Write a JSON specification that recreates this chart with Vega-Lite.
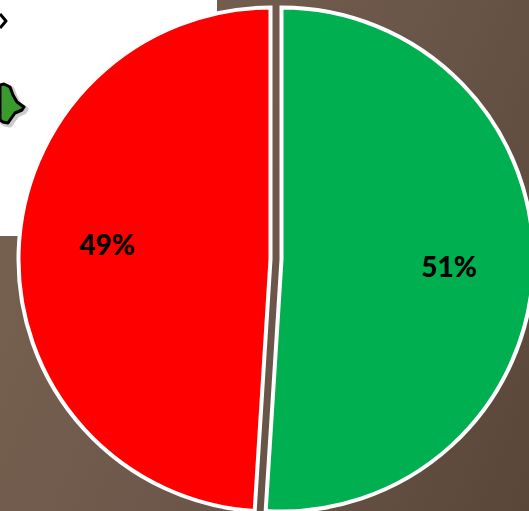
{
  "$schema": "https://vega.github.io/schema/vega-lite/v6.json",
  "width": 529,
  "height": 511,
  "padding": 0,
  "autosize": {"type": "none"},
  "background": "#6a5549",
  "config": {"view": {"stroke": null}},
  "datasets": {
    "shares": [
      {"label": "Green", "share": 51},
      {"label": "Red", "share": 49}
    ],
    "one": [{"k": 1}]
  },
  "layer": [
    {
      "data": {"name": "one"},
      "mark": {"type": "rect", "fill": {"gradient": "linear", "x1": 0, "y1": 0.6, "x2": 1, "y2": 1, "stops": [{"offset": 0, "color": "#75604f"}, {"offset": 0.5, "color": "#6a5549"}, {"offset": 1, "color": "#5a4639"}]}},
      "encoding": {
        "x": {"datum": 0, "type": "quantitative", "scale": {"domain": [0, 529], "nice": false}, "axis": null},
        "x2": {"datum": 529},
        "y": {"datum": 0, "type": "quantitative", "scale": {"domain": [511, 0], "nice": false}, "axis": null},
        "y2": {"datum": 511}
      }
    },
    {
      "data": {"name": "one"},
      "mark": {"type": "rect", "fill": "#ffffff"},
      "encoding": {
        "x": {"datum": 0, "type": "quantitative", "axis": null},
        "x2": {"datum": 217},
        "y": {"datum": 0, "type": "quantitative", "axis": null},
        "y2": {"datum": 236}
      }
    },
    {
      "data": {"name": "one"},
      "mark": {"type": "point", "filled": true, "size": 4, "fill": "#000000", "stroke": "#000000", "strokeWidth": 5, "opacity": 0.2, "strokeJoin": "round", "shape": "M0 -1L4 -2L10 1L13 9L17 16L24 21L22 24L15 27L10 34L8 37L3 36L0 34Z"},
      "encoding": {
        "x": {"datum": 2, "type": "quantitative", "axis": null},
        "y": {"datum": 88, "type": "quantitative", "axis": null}
      }
    },
    {
      "data": {"name": "one"},
      "mark": {"type": "point", "filled": true, "size": 4, "fill": "#3a9a2e", "stroke": "#000000", "strokeWidth": 3, "opacity": 1, "strokeJoin": "round", "shape": "M0 -1L4 -2L10 1L13 9L17 16L24 21L22 24L15 27L10 34L8 37L3 36L0 34Z"},
      "encoding": {
        "x": {"datum": 0, "type": "quantitative", "axis": null},
        "y": {"datum": 86, "type": "quantitative", "axis": null}
      }
    },
    {
      "data": {"name": "one"},
      "mark": {"type": "point", "filled": true, "size": 4, "fill": "#ffffff", "stroke": "#000000", "strokeWidth": 3, "opacity": 1, "strokeJoin": "round", "shape": "M0 0L6 7L0 14"},
      "encoding": {
        "x": {"datum": 0, "type": "quantitative", "axis": null},
        "y": {"datum": 14, "type": "quantitative", "axis": null}
      }
    },
    {
      "data": {"name": "shares"},
      "transform": [
        {"stack": "share", "sort": [{"field": "share", "order": "descending"}], "as": ["start", "end"]},
        {"filter": "datum.label === 'Green'"}
      ],
      "mark": {"type": "arc", "outerRadius": 252, "stroke": "#ffffff", "strokeWidth": 4},
      "encoding": {
        "theta": {"field": "start", "type": "quantitative", "scale": {"domain": [0, 100]}},
        "theta2": {"field": "end"},
        "x": {"datum": 281.5, "type": "quantitative", "axis": null},
        "y": {"datum": 259.5, "type": "quantitative", "axis": null},
        "fill": {"field": "label", "type": "nominal", "scale": {"domain": ["Green", "Red"], "range": ["#00b050", "#ff0000"]}, "legend": null}
      }
    },
    {
      "data": {"name": "shares"},
      "transform": [
        {"stack": "share", "sort": [{"field": "share", "order": "descending"}], "as": ["start", "end"]},
        {"filter": "datum.label === 'Red'"}
      ],
      "mark": {"type": "arc", "outerRadius": 252, "stroke": "#ffffff", "strokeWidth": 4},
      "encoding": {
        "theta": {"field": "start", "type": "quantitative", "scale": {"domain": [0, 100]}},
        "theta2": {"field": "end"},
        "x": {"datum": 270.5, "type": "quantitative", "axis": null},
        "y": {"datum": 259.5, "type": "quantitative", "axis": null},
        "fill": {"field": "label", "type": "nominal", "legend": null}
      }
    },
    {
      "data": {"name": "one"},
      "mark": {"type": "text", "text": "51%", "font": "Lato", "fontWeight": 900, "fontSize": 28, "fill": "#000000", "align": "center", "baseline": "middle"},
      "encoding": {
        "x": {"datum": 449, "type": "quantitative", "axis": null},
        "y": {"datum": 269, "type": "quantitative", "axis": null}
      }
    },
    {
      "data": {"name": "one"},
      "mark": {"type": "text", "text": "49%", "font": "Lato", "fontWeight": 900, "fontSize": 28, "fill": "#000000", "align": "center", "baseline": "middle"},
      "encoding": {
        "x": {"datum": 107, "type": "quantitative", "axis": null},
        "y": {"datum": 247, "type": "quantitative", "axis": null}
      }
    }
  ]
}
